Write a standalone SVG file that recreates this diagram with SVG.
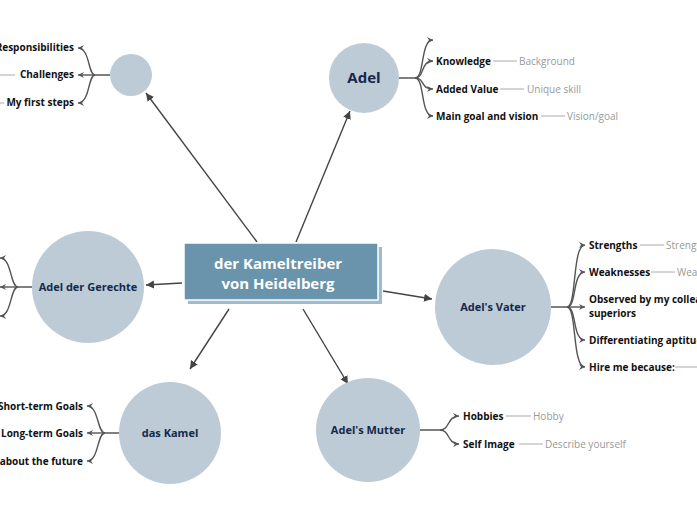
<svg xmlns="http://www.w3.org/2000/svg" width="697" height="520" viewBox="0 0 697 520">
<style>
.c{fill:#bccbd6}
.t{font-family:"Open Sans","Noto Sans",sans-serif;font-weight:bold;fill:#15284a}
.l{font-family:"Open Sans","Noto Sans",sans-serif;font-weight:bold;font-size:10px;fill:#111}
.g{font-family:"Open Sans","Noto Sans",sans-serif;font-size:10px;fill:#999}
.e{stroke:#444;stroke-width:1.4;fill:none;marker-end:url(#a)}
.b{stroke:#555;stroke-width:1.4;fill:none;marker-end:url(#s)}
.gl{stroke:#aaa;stroke-width:1}
</style>
<defs>
<marker id="a" markerWidth="10" markerHeight="10" refX="8" refY="5" orient="auto" markerUnits="userSpaceOnUse"><path d="M0,1 L8,5 L0,9 Z" fill="#444"/></marker>
<marker id="s" markerWidth="8" markerHeight="8" refX="6" refY="4" orient="auto" markerUnits="userSpaceOnUse"><path d="M0,1 L6,4 L0,7 L2,4 Z" fill="#555"/></marker>
</defs>
<rect width="697" height="520" fill="#fff"/>
<g id="connectors">
<line class="e" x1="257" y1="242" x2="146" y2="93"/>
<line class="e" x1="296" y1="242" x2="350" y2="111"/>
<line class="e" x1="182" y1="283" x2="146" y2="285"/>
<line class="e" x1="383" y1="291" x2="432" y2="299"/>
<line class="e" x1="229" y1="309" x2="190" y2="369"/>
<line class="e" x1="303" y1="309" x2="348" y2="384"/>
</g>
<g id="center">
<rect x="188" y="247" width="194" height="57" fill="#9fbccc"/>
<rect x="184" y="243" width="194" height="57" fill="#6994ab" stroke="#fff" stroke-width="1.5"/>
<text class="t" x="278" y="269" font-size="15" fill="#fff" style="fill:#fff" text-anchor="middle">der Kameltreiber</text>
<text class="t" x="278" y="289" font-size="15" style="fill:#fff" text-anchor="middle">von Heidelberg</text>
</g>
<g id="n-empty">
<circle class="c" cx="131" cy="75" r="21"/>
<path class="b" d="M110,75 H95 C88,75 90,48 78,48"/>
<path class="b" d="M95,75 H78"/>
<path class="b" d="M95,75 C88,75 90,103 78,103"/>
<text class="l" x="74" y="51" text-anchor="end">Responsibilities</text>
<text class="l" x="74" y="78" text-anchor="end">Challenges</text>
<text class="l" x="74" y="106" text-anchor="end">My first steps</text>
<line class="gl" x1="0" y1="75" x2="15" y2="75"/>
<line class="gl" x1="0" y1="103" x2="4" y2="103"/>
</g>
<g id="n-adel">
<circle class="c" cx="364" cy="78" r="35"/>
<text class="t" x="364" y="83" font-size="15" text-anchor="middle">Adel</text>
<path class="b" d="M399,78 H415 C425,78 420,40 433,40"/>
<path class="b" d="M415,78 C425,78 420,61 433,61"/>
<path class="b" d="M415,78 C425,78 420,89 433,89"/>
<path class="b" d="M415,78 C425,78 420,116 433,116"/>
<text class="l" x="436" y="65">Knowledge</text>
<text class="l" x="436" y="93">Added Value</text>
<text class="l" x="436" y="120">Main goal and vision</text>
<line class="gl" x1="493" y1="61" x2="517" y2="61"/>
<line class="gl" x1="500" y1="89" x2="524" y2="89"/>
<line class="gl" x1="541" y1="116" x2="565" y2="116"/>
<text class="g" x="519" y="65">Background</text>
<text class="g" x="527" y="93">Unique skill</text>
<text class="g" x="567" y="120">Vision/goal</text>
</g>
<g id="n-gerechte">
<circle class="c" cx="88" cy="287" r="56"/>
<text class="t" x="88" y="291" font-size="11" text-anchor="middle">Adel der Gerechte</text>
<path class="b" d="M32,287 H18 C10,287 12,258 0,258"/>
<path class="b" d="M18,287 H0"/>
<path class="b" d="M18,287 C10,287 12,316 0,316"/>
</g>
<g id="n-vater">
<circle class="c" cx="493" cy="307" r="58"/>
<text class="t" x="493" y="311" font-size="11" text-anchor="middle">Adel's Vater</text>
<path class="b" d="M551,307 H567 C577,307 572,245 585,245"/>
<path class="b" d="M567,307 C577,307 572,272 585,272"/>
<path class="b" d="M567,307 H585"/>
<path class="b" d="M567,307 C577,307 572,340 585,340"/>
<path class="b" d="M567,307 C577,307 572,367 585,367"/>
<text class="l" x="589" y="249">Strengths</text>
<text class="l" x="589" y="276">Weaknesses</text>
<text class="l" x="589" y="303">Observed by my colleagues and</text>
<text class="l" x="589" y="317">superiors</text>
<text class="l" x="589" y="344">Differentiating aptitudes</text>
<text class="l" x="589" y="371">Hire me because:</text>
<line class="gl" x1="640" y1="245" x2="664" y2="245"/>
<line class="gl" x1="651" y1="272" x2="675" y2="272"/>
<line class="gl" x1="675" y1="367" x2="697" y2="367"/>
<text class="g" x="666" y="249">Strengths</text>
<text class="g" x="677" y="276">Weaknesses</text>
</g>
<g id="n-kamel">
<circle class="c" cx="170" cy="433" r="51"/>
<text class="t" x="170" y="437" font-size="11" text-anchor="middle">das Kamel</text>
<path class="b" d="M119,433 H105 C97,433 99,406 87,406"/>
<path class="b" d="M105,433 H87"/>
<path class="b" d="M105,433 C97,433 99,461 87,461"/>
<text class="l" x="83" y="410" text-anchor="end">Short-term Goals</text>
<text class="l" x="83" y="437" text-anchor="end">Long-term Goals</text>
<text class="l" x="83" y="465" text-anchor="end">Dreams about the future</text>
</g>
<g id="n-mutter">
<circle class="c" cx="368" cy="430" r="52"/>
<text class="t" x="368" y="434" font-size="11" text-anchor="middle">Adel's Mutter</text>
<path class="b" d="M420,430 H440 C450,430 447,416 459,416"/>
<path class="b" d="M440,430 C450,430 447,444 459,444"/>
<text class="l" x="463" y="420">Hobbies</text>
<text class="l" x="463" y="448">Self Image</text>
<line class="gl" x1="506" y1="416" x2="531" y2="416"/>
<line class="gl" x1="519" y1="444" x2="543" y2="444"/>
<text class="g" x="533" y="420">Hobby</text>
<text class="g" x="545" y="448">Describe yourself</text>
</g>
</svg>
